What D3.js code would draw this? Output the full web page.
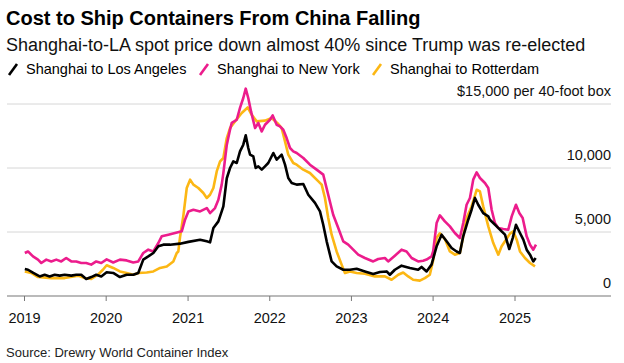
<!DOCTYPE html>
<html>
<head>
<meta charset="utf-8">
<script src="https://cdn.jsdelivr.net/npm/d3@7"></script>
<style>
  html, body { margin: 0; padding: 0; background: #fff; }
  svg { display: block; font-family: "Liberation Sans", Arial, sans-serif; }
</style>
</head>
<body>
<svg id="chart" width="624" height="363"></svg>
<script>
// ---- DATA (dates as decimal years, values in USD per 40-foot box) ----
const seriesNames = ["Shanghai to Los Angeles", "Shanghai to New York", "Shanghai to Rotterdam"];
const yTicks = [0, 5000, 10000, 15000];
const yTickLabels = ["0", "5,000", "10,000", "$15,000 per 40-foot box"];
const xTickYears = [2019, 2020, 2021, 2022, 2023, 2024, 2025];

const losAngeles = [
  [2019.01,2110],[2019.049,2050],[2019.114,1800],[2019.192,1530],[2019.253,1660],[2019.314,1530],
  [2019.376,1660],[2019.437,1590],[2019.498,1660],[2019.579,1590],[2019.640,1660],[2019.701,1660],
  [2019.762,1330],[2019.823,1480],[2019.884,1660],[2019.946,1530],[2020.012,1850],[2020.092,1800],
  [2020.174,1480],[2020.256,1660],[2020.337,1660],[2020.398,1800],[2020.459,2840],[2020.520,3090],
  [2020.582,3360],[2020.643,3880],[2020.704,4010],[2020.786,4010],[2020.908,4090],[2021.010,4230],
  [2021.153,4400],[2021.235,4270],[2021.275,4190],[2021.316,5310],[2021.377,5830],[2021.418,6610],
  [2021.438,7000],[2021.480,9200],[2021.520,10000],[2021.560,10520],[2021.602,10390],[2021.642,11300],
  [2021.682,11820],[2021.712,12550],[2021.743,11560],[2021.765,11040],[2021.805,10900],[2021.834,10000],
  [2021.866,10130],[2021.908,9870],[2021.948,10130],[2021.988,10390],[2022.050,11170],[2022.091,10650],
  [2022.152,11040],[2022.193,10260],[2022.233,9220],[2022.275,8830],[2022.336,8700],[2022.417,8750],
  [2022.478,7910],[2022.560,7270],[2022.621,6610],[2022.661,5570],[2022.703,4270],[2022.764,2700],
  [2022.825,2310],[2022.906,2050],[2022.988,2050],[2023.070,2130],[2023.171,1920],[2023.273,1720],
  [2023.355,1880],[2023.437,1920],[2023.477,1660],[2023.538,2050],[2023.620,2370],[2023.722,2190],
  [2023.823,2050],[2023.865,2270],[2023.926,1920],[2023.987,2450],[2024.049,3880],[2024.110,4790],
  [2024.171,4270],[2024.232,3750],[2024.293,3480],[2024.333,3360],[2024.374,4660],[2024.435,5960],
  [2024.476,6740],[2024.517,7660],[2024.557,7130],[2024.618,6480],[2024.680,6220],[2024.700,5960],
  [2024.782,5440],[2024.843,5050],[2024.884,4790],[2024.936,3670],[2024.978,4530],[2025.018,5570],
  [2025.067,4920],[2025.108,4400],[2025.149,3620],[2025.190,3230],[2025.230,2700],[2025.259,2970]
];

const newYork = [
  [2019.01,3360],[2019.049,3480],[2019.110,3090],[2019.171,2840],[2019.212,2580],[2019.273,2840],
  [2019.334,2700],[2019.395,2840],[2019.456,2700],[2019.517,2970],[2019.579,2700],[2019.640,2700],
  [2019.701,2580],[2019.762,2580],[2019.823,2450],[2019.884,2700],[2019.946,2580],[2020.012,2860],
  [2020.092,2620],[2020.174,2840],[2020.256,2780],[2020.337,2620],[2020.398,2700],[2020.459,3360],
  [2020.520,3620],[2020.582,3480],[2020.643,4140],[2020.684,4660],[2020.765,4790],[2020.847,4920],
  [2020.929,5050],[2020.969,5960],[2021.010,6610],[2021.071,6740],[2021.153,6610],[2021.235,6870],
  [2021.275,6480],[2021.336,6870],[2021.377,7520],[2021.418,8700],[2021.438,9600],[2021.480,11800],
  [2021.520,13000],[2021.541,13520],[2021.602,13770],[2021.642,14690],[2021.682,15470],[2021.712,16200],
  [2021.743,15470],[2021.777,14420],[2021.826,13120],[2021.866,13520],[2021.908,12860],[2021.948,13380],
  [2022.009,13770],[2022.042,14110],[2022.091,13380],[2022.131,13250],[2022.172,12990],[2022.213,12340],
  [2022.254,11560],[2022.294,11300],[2022.336,11170],[2022.417,10780],[2022.498,10260],[2022.580,9870],
  [2022.661,9480],[2022.722,7910],[2022.783,6350],[2022.845,5310],[2022.906,4270],[2022.967,4010],
  [2023.028,3620],[2023.089,3230],[2023.171,2970],[2023.273,2700],[2023.334,2890],[2023.416,2970],
  [2023.456,2700],[2023.538,3150],[2023.620,3620],[2023.681,3480],[2023.743,2970],[2023.823,2700],
  [2023.884,2760],[2023.926,2850],[2023.987,3090],[2024.007,3500],[2024.049,5700],[2024.089,6300],
  [2024.150,5830],[2024.211,5440],[2024.272,4920],[2024.333,4530],[2024.374,5700],[2024.415,7130],
  [2024.456,7660],[2024.496,9090],[2024.538,9660],[2024.578,9220],[2024.639,8830],[2024.680,8440],
  [2024.721,6740],[2024.761,5700],[2024.802,5310],[2024.863,5230],[2024.924,5180],[2024.966,6220],
  [2025.018,7130],[2025.059,6480],[2025.100,6090],[2025.149,4660],[2025.190,4010],[2025.230,3620],
  [2025.263,4010]
];

const rotterdam = [
  [2019.01,1920],[2019.089,1800],[2019.171,1480],[2019.334,1400],[2019.498,1400],[2019.661,1590],
  [2019.743,1400],[2019.823,1330],[2019.905,1660],[2019.966,2050],[2020.012,2400],[2020.092,2190],
  [2020.174,1920],[2020.256,1800],[2020.337,1660],[2020.398,1800],[2020.501,1840],[2020.582,1920],
  [2020.664,2190],[2020.746,2310],[2020.826,2700],[2020.868,3360],[2020.887,3480],[2020.908,4600],
  [2020.949,6300],[2020.990,8440],[2021.031,9090],[2021.071,8700],[2021.132,8440],[2021.193,8050],
  [2021.235,7660],[2021.275,7910],[2021.316,8440],[2021.357,9730],[2021.398,10520],[2021.438,10780],
  [2021.480,12340],[2021.520,13120],[2021.581,13640],[2021.663,14300],[2021.736,14730],[2021.785,14160],
  [2021.847,13640],[2021.948,13700],[2022.030,13910],[2022.111,13440],[2022.152,13120],[2022.193,12080],
  [2022.233,11040],[2022.294,10390],[2022.336,10260],[2022.417,9870],[2022.498,9610],[2022.580,9090],
  [2022.642,8700],[2022.682,7660],[2022.722,6090],[2022.764,4790],[2022.825,3480],[2022.886,2450],
  [2022.927,1800],[2022.988,1920],[2023.070,1800],[2023.171,1740],[2023.294,1530],[2023.416,1530],
  [2023.498,1270],[2023.579,1660],[2023.640,1840],[2023.701,1530],[2023.762,1270],[2023.844,1200],
  [2023.905,1400],[2023.966,1660],[2024.007,2800],[2024.049,4550],[2024.089,4900],[2024.150,4450],
  [2024.211,3480],[2024.272,3230],[2024.333,3360],[2024.374,4660],[2024.415,6090],[2024.476,7000],
  [2024.538,8300],[2024.578,8170],[2024.618,7000],[2024.680,5440],[2024.741,4140],[2024.802,3230],
  [2024.843,3880],[2024.884,4270],[2024.945,4870],[2024.985,5050],[2025.027,4400],[2025.067,3480],
  [2025.128,2970],[2025.190,2580],[2025.251,2310]
];

const seriesData = [losAngeles, newYork, rotterdam];
const seriesColors = ["#000000", "#ec1c8c", "#fcb714"];

// ---- helpers ----
function decToDate(d) {
  const y = Math.floor(d);
  const s = new Date(y, 0, 1).getTime();
  const e = new Date(y + 1, 0, 1).getTime();
  return new Date(s + (d - y) * (e - s));
}

const svg = d3.select("#chart");
const W = 624, H = 363;
const plotLeft = 7, plotRight = 611;

const x = d3.scaleTime()
  .domain([new Date(2019, 0, 1), new Date(2025, 0, 1)])
  .range([24, 514.5]);
const y = d3.scaleLinear().domain([0, 15000]).range([296, 104]);

// ---- titles ----
svg.append("text").attr("x", 6).attr("y", 25)
  .attr("font-size", 20).attr("font-weight", "bold").attr("fill", "#000")
  .text("Cost to Ship Containers From China Falling");
svg.append("text").attr("x", 6).attr("y", 51)
  .attr("font-size", 18).attr("fill", "#111")
  .text("Shanghai-to-LA spot price down almost 40% since Trump was re-elected");

// ---- legend ----
const legendX = [8, 199, 372];
const legend = svg.append("g");
seriesNames.forEach((name, i) => {
  const g = legend.append("g").attr("transform", `translate(${legendX[i]},0)`);
  g.append("line").attr("x1", 1).attr("y1", 75).attr("x2", 9).attr("y2", 64)
    .attr("stroke", seriesColors[i]).attr("stroke-width", 2.6).attr("stroke-linecap", "butt");
  g.append("text").attr("x", 18).attr("y", 74)
    .attr("font-size", 14.5).attr("fill", "#000").text(name);
});

// ---- gridlines & y labels ----
const grid = svg.append("g");
yTicks.forEach((t, i) => {
  if (t > 0) {
    grid.append("line").attr("x1", plotLeft).attr("x2", plotRight)
      .attr("y1", y(t)).attr("y2", y(t))
      .attr("stroke", "#d6d6d6").attr("stroke-width", 1);
  }
  grid.append("text").attr("x", plotRight).attr("y", y(t) - 8.5)
    .attr("text-anchor", "end").attr("font-size", 14.5).attr("fill", "#111")
    .text(yTickLabels[i]);
});

// ---- x axis ----
const xAxis = d3.axisBottom(x)
  .tickValues(xTickYears.map(yr => new Date(yr, 0, 1)))
  .tickFormat(d3.timeFormat("%Y"))
  .tickSize(5).tickPadding(12);
const ax = svg.append("g").attr("transform", `translate(0,${y(0)})`).call(xAxis);
ax.select(".domain").remove();
ax.selectAll(".tick line").attr("stroke", "#777").attr("stroke-width", 1);
ax.selectAll(".tick text").attr("font-size", 14.5).attr("fill", "#111")
  .attr("font-family", "Liberation Sans, Arial, sans-serif");
svg.append("line").attr("x1", plotLeft).attr("x2", plotRight)
  .attr("y1", y(0)).attr("y2", y(0)).attr("stroke", "#777").attr("stroke-width", 1.2);

// ---- lines (draw Rotterdam, New York, then LA on top) ----
const line = d3.line()
  .x(d => x(decToDate(d[0])))
  .y(d => y(d[1]));
[2, 1, 0].forEach(i => {
  svg.append("path").datum(seriesData[i])
    .attr("fill", "none")
    .attr("stroke", seriesColors[i])
    .attr("stroke-width", 2.6)
    .attr("stroke-linejoin", "round")
    .attr("d", line);
});

// ---- source ----
svg.append("text").attr("x", 6).attr("y", 357)
  .attr("font-size", 13).attr("fill", "#222")
  .text("Source: Drewry World Container Index");
</script>
</body>
</html>
